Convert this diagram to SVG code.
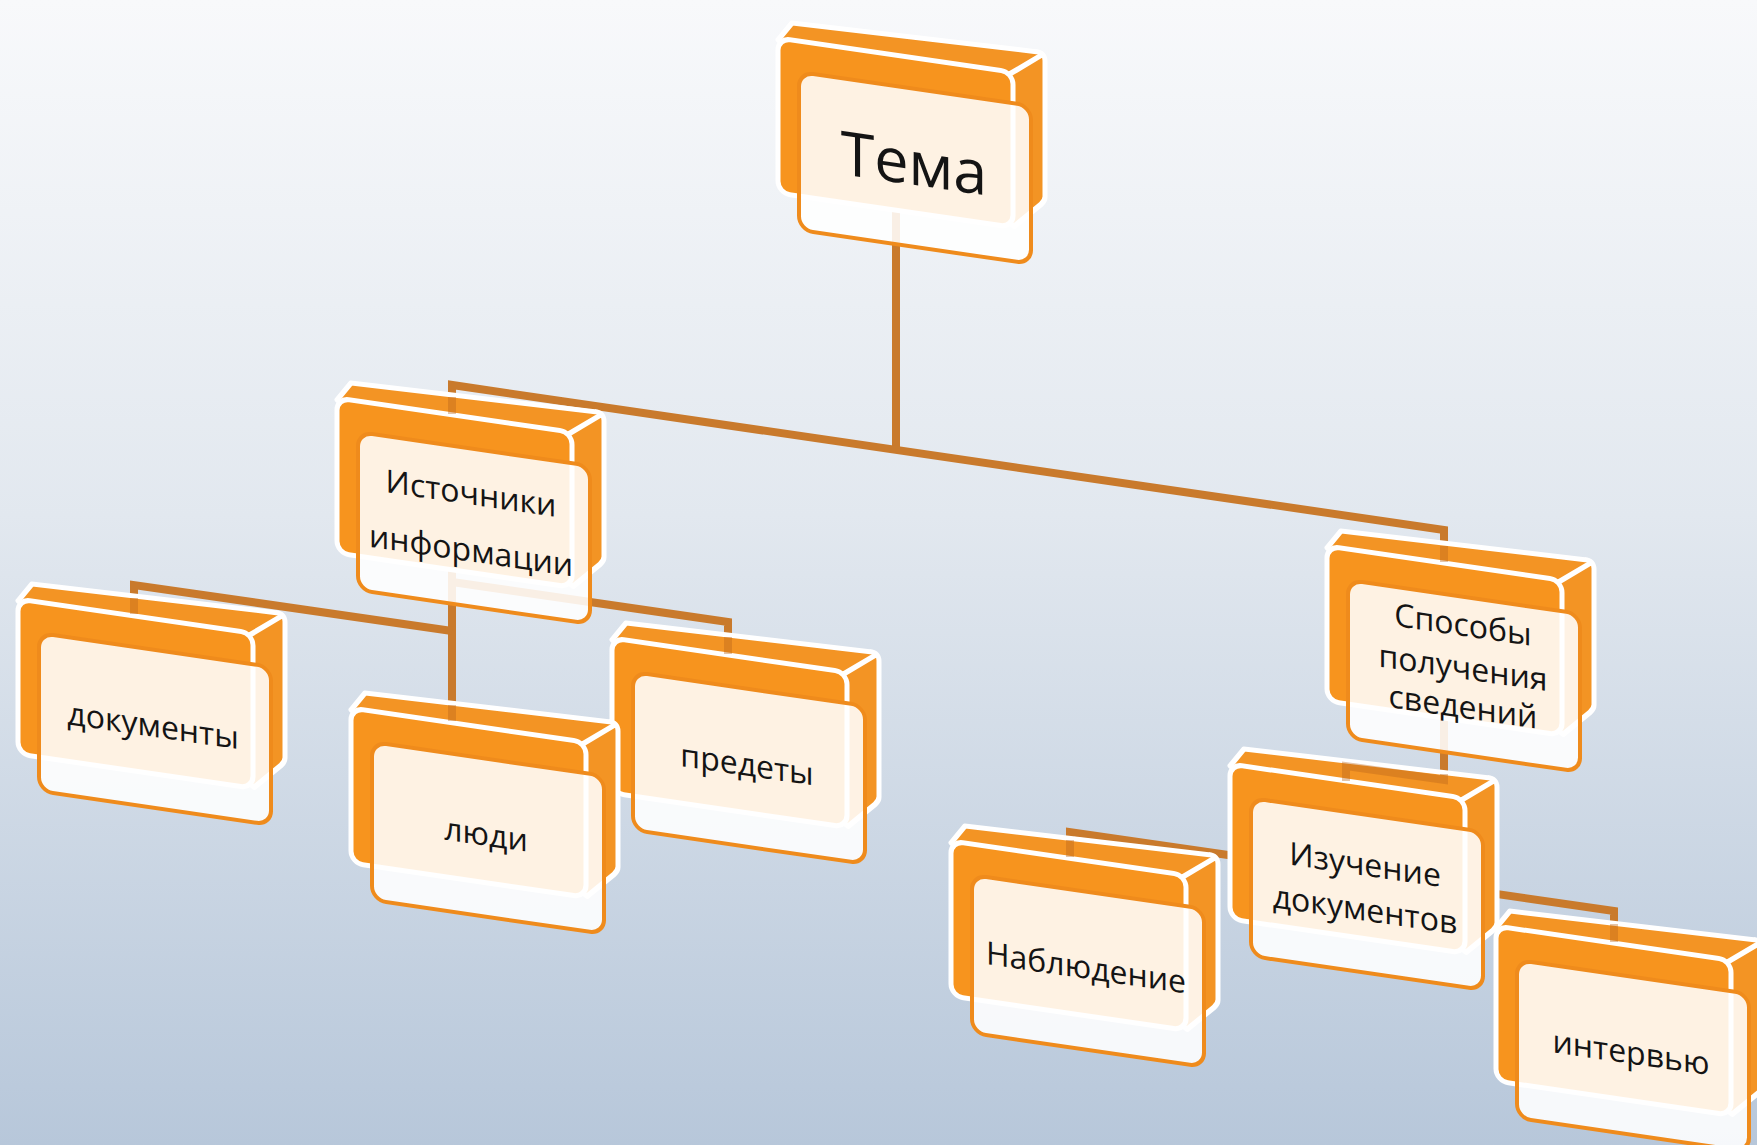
<svg xmlns="http://www.w3.org/2000/svg" xmlns:xlink="http://www.w3.org/1999/xlink" width="1757" height="1145" viewBox="0 0 1757 1145">
<defs>
<linearGradient id="bg" x1="0" y1="0" x2="0" y2="1">
<stop offset="0" stop-color="#f8f9fb"/>
<stop offset="0.45" stop-color="#e2e8ef"/>
<stop offset="1" stop-color="#b7c7da"/>
</linearGradient>
<g id="box">
<path class="hull" d="M0,2 L14,-17 L258,-24 Q267,-24.5 267,-16 L267,120 Q267,124 263,128 L236,154 Z"/>
<rect class="face" x="0" y="0" width="235" height="155" rx="12"/>
<path class="edge" d="M232,2 L263,-21"/>
<rect class="card" x="21" y="31" width="232" height="158" rx="14"/>
</g>
</defs>
<style>
.hull{fill:#f39424;stroke:#ffffff;stroke-width:5;stroke-linejoin:round}
.face{fill:#f7941e;stroke:#ffffff;stroke-width:5}
.edge{fill:none;stroke:#ffffff;stroke-width:5;stroke-linecap:round}
.card{fill:#ffffff;fill-opacity:0.88;stroke:#ef8b1c;stroke-width:4}
.conn{fill:none;stroke:#c97a2c;stroke-width:8;stroke-linejoin:miter}
.mark{fill:none;stroke:#b8651a;stroke-opacity:0.38;stroke-width:8}
.lbl{font-family:"Open Sans","Noto Sans","DejaVu Sans",sans-serif;fill:#141414;text-anchor:middle}
.s{font-size:32px}
.big{font-size:61px}
</style>
<rect x="0" y="0" width="1757" height="1145" fill="url(#bg)"/>
<g id="connectors">
<path class="conn" d="M896,150 V450"/>
<path class="conn" d="M452,408 V385 L1444,530 V556"/>
<path class="conn" d="M452,570 V718"/>
<path class="conn" d="M134,612 V585 L452,631"/>
<path class="conn" d="M452,582 L728,622 V650"/>
<path class="conn" d="M1444,700 V886"/>
<path class="conn" d="M1070,856 V832 L1614,911 V940"/>
</g>
<g id="node-tema" transform="translate(778,38) skewY(8.3)">
<use xlink:href="#box"/>
<text class="lbl big" x="136" y="127">Тема</text>
</g>
<g id="node-istochniki" transform="translate(337,398) skewY(8.3)">
<use xlink:href="#box"/>
<text class="lbl s" x="134" y="87">Источники</text>
<text class="lbl s" x="134" y="144">информации</text>
</g>
<g id="node-dokumenty" transform="translate(18,599) skewY(8.3)">
<use xlink:href="#box"/>
<text class="lbl s" x="135" y="118">документы</text>
</g>
<g id="node-predety" transform="translate(612,638) skewY(8.3)">
<use xlink:href="#box"/>
<text class="lbl s" x="135" y="118">предеты</text>
</g>
<g id="node-lyudi" transform="translate(351,708) skewY(8.3)">
<use xlink:href="#box"/>
<text class="lbl s" x="135" y="118">люди</text>
</g>
<g id="node-sposoby" transform="translate(1327,546) skewY(8.3)">
<use xlink:href="#box"/>
<text class="lbl s" x="136" y="70">Способы</text>
<text class="lbl s" x="136" y="113">получения</text>
<text class="lbl s" x="136" y="152">сведений</text>
</g>
<g id="node-nablyudenie" transform="translate(951,841) skewY(8.3)">
<use xlink:href="#box"/>
<text class="lbl s" x="135" y="118">Наблюдение</text>
</g>
<g id="node-izuchenie" transform="translate(1230,764) skewY(8.3)">
<use xlink:href="#box"/>
<text class="lbl s" x="135" y="92">Изучение</text>
<text class="lbl s" x="135" y="137">документов</text>
</g>
<g id="node-intervyu" transform="translate(1496,926) skewY(8.3)">
<use xlink:href="#box"/>
<text class="lbl s" x="135" y="118">интервью</text>
</g>
<g id="connector-marks">
<path class="mark" d="M452,397 V414"/>
<path class="mark" d="M1444,546 V562"/>
<path class="mark" d="M134,598 V614"/>
<path class="mark" d="M452,705 V721"/>
<path class="mark" d="M728,637 V654"/>
<path class="mark" d="M1444,774 V780 L1346,766 V781"/>
<path class="mark" d="M1070,840 V857"/>
<path class="mark" d="M1614,924 V942"/>
</g>
</svg>
